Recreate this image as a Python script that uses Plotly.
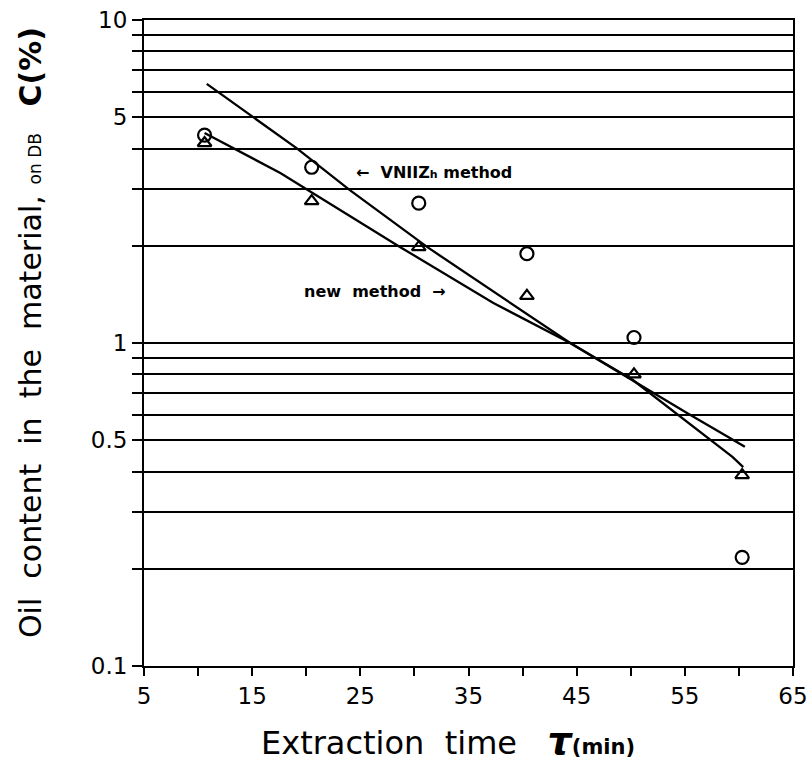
import math
import plotly.graph_objects as go

# --- data ---
time_pts = [10.6, 20.5, 30.4, 40.4, 50.3, 60.3]
vniizh_pts = [4.4, 3.5, 2.71, 1.89, 1.04, 0.217]
new_pts = [4.16, 2.75, 1.98, 1.40, 0.80, 0.39]

vniizh_line_x = [10.8, 19.1, 24.0, 31.2, 44.4, 55.2, 60.55]
vniizh_line_y = [6.34, 4.01, 2.98, 1.98, 1.0, 0.607, 0.477]
new_line_x = [10.6, 17.6, 28.7, 37.3, 44.4, 50.2, 59.4, 60.4]
new_line_y = [4.47, 3.36, 1.98, 1.33, 1.0, 0.768, 0.444, 0.413]

y_grid = [0.1, 0.2, 0.3, 0.4, 0.5, 0.6, 0.7, 0.8, 0.9, 1, 2, 3, 4, 5, 6, 7, 8, 9, 10]
y_labels = {0.1: "0.1", 0.5: "0.5", 1: "1", 5: "5", 10: "10"}
x_ticks = [5, 10, 15, 20, 25, 30, 35, 40, 45, 50, 55, 60, 65]
x_labels = {5: "5", 15: "15", 25: "25", 35: "35", 45: "45", 55: "55", 65: "65"}

FONT = "DejaVu Sans"

W, H = 809, 767
L, R, T, B = 144, 16, 20, 101

fig = go.Figure()
fig.add_trace(go.Scatter(x=vniizh_line_x, y=vniizh_line_y, mode="lines",
                         line=dict(color="black", width=2.3), showlegend=False))
fig.add_trace(go.Scatter(x=new_line_x, y=new_line_y, mode="lines",
                         line=dict(color="black", width=2.3), showlegend=False))
fig.add_trace(go.Scatter(x=time_pts, y=vniizh_pts, mode="markers",
                         marker=dict(symbol="circle-open", size=13, color="black",
                                     line=dict(width=2.2, color="black")),
                         showlegend=False))
fig.add_trace(go.Scatter(x=time_pts, y=new_pts, mode="markers",
                         marker=dict(symbol="triangle-up-open", size=12, color="black",
                                     line=dict(width=2.2, color="black")),
                         showlegend=False))

fig.add_annotation(x=24.4, y=math.log10(3.38), xref="x", yref="y",
                   xanchor="left", yanchor="middle",
                   text="<b>←  VNIIZ<span style='font-size:11px'>h</span> method</b>",
                   showarrow=False, font=dict(family=FONT, size=16, color="black"))
fig.add_annotation(x=19.6, y=math.log10(1.44), xref="x", yref="y",
                   xanchor="left", yanchor="middle",
                   text="<b>new  method  →</b>",
                   showarrow=False, font=dict(family=FONT, size=16, color="black"))


def px_to_paper(px, py):
    return (px - L) / (W - L - R), (H - B - py) / (H - T - B)


# y-axis title
ax, ay = px_to_paper(30, 333)
fig.add_annotation(x=ax, y=ay, xref="paper", yref="paper", showarrow=False,
                   textangle=-90, xanchor="center", yanchor="middle",
                   text=("Oil  content  in  the  material,"
                         "<span style='font-size:17px'>  on DB   </span>"
                         "<b> C(%)</b>"),
                   font=dict(family=FONT, size=30, color="black"))
# x-axis title
ax, ay = px_to_paper(448, 741)
fig.add_annotation(x=ax, y=ay, xref="paper", yref="paper", showarrow=False,
                   xanchor="center", yanchor="middle",
                   text=("Extraction  time   <b><i><span style='font-size:38px'>τ</span></i></b>"
                         "<b><span style='font-size:21px'>(min)</span></b>"),
                   font=dict(family=FONT, size=32, color="black"))

fig.update_xaxes(range=[5, 65], tickvals=x_ticks,
                 ticktext=[x_labels.get(v, "") for v in x_ticks],
                 ticks="outside", ticklen=8, tickwidth=2, tickcolor="black",
                 showline=True, linewidth=2, linecolor="black", mirror=True,
                 showgrid=False, zeroline=False, automargin=False,
                 tickfont=dict(family=FONT, size=23, color="black"))
fig.update_yaxes(type="log", range=[-1, 1], tickvals=y_grid,
                 ticktext=[y_labels.get(v, "") for v in y_grid],
                 ticks="outside", ticklen=10, tickwidth=2, tickcolor="black",
                 showline=True, linewidth=2, linecolor="black", mirror=True,
                 showgrid=True, gridcolor="black", gridwidth=2.3, zeroline=False,
                 automargin=False, ticklabeloverflow="allow",
                 tickfont=dict(family=FONT, size=23, color="black"))

fig.update_layout(width=W, height=H, margin=dict(l=L, r=R, t=T, b=B),
                  plot_bgcolor="white", paper_bgcolor="white", showlegend=False)

fig.write_html("out.html", config={"displayModeBar": False},
               post_script="document.body.style.margin='0px';"
                           "document.body.style.overflow='hidden';")
